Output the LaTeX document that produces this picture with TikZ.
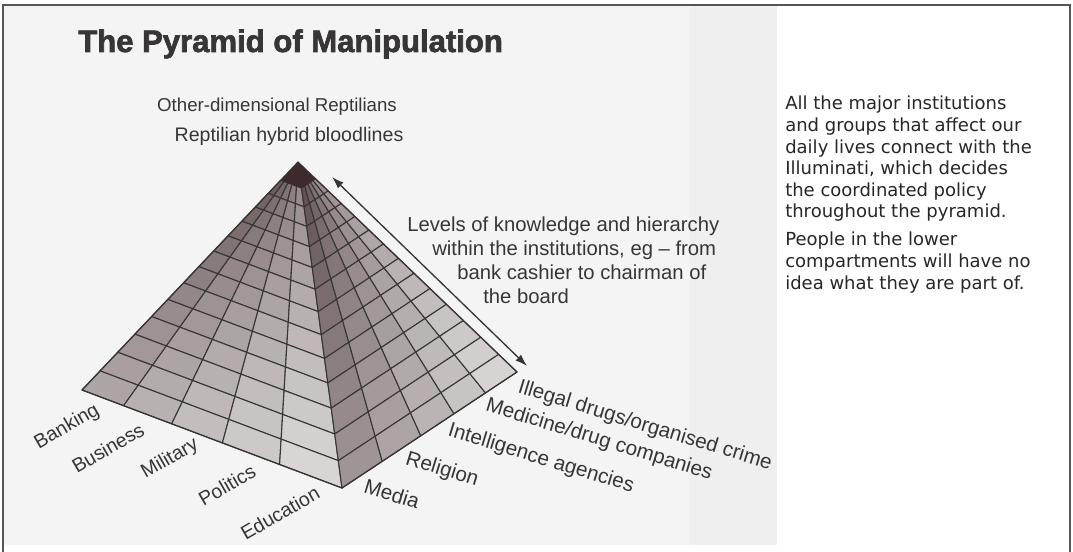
\documentclass[tikz,border=0pt]{standalone}
\usepackage{fontspec}
\setmainfont{Liberation Sans}
\newfontfamily\titlefont{Liberation Sans Bold}[FakeBold=2.2]
\newfontfamily\notefont{DejaVu Sans}
\usetikzlibrary{calc,arrows.meta}
\definecolor{ink}{RGB}{55,53,53}
\definecolor{paper}{RGB}{244,244,244}
\definecolor{fold}{RGB}{239,239,239}
\definecolor{frame}{RGB}{85,85,85}
\definecolor{stone}{RGB}{228,225,225}
\definecolor{shadow}{RGB}{72,52,54}
\definecolor{capstone}{RGB}{60,42,44}

\begin{document}
\begin{tikzpicture}[x=0.75pt,y=-0.75pt,
  lbl/.style={font=\fontsize{14.7}{17}\selectfont,text=ink,inner sep=0pt},
  lblwide/.style={font=\fontsize{15.5}{18}\selectfont,text=ink,inner sep=0pt},
  note/.style={font=\notefont\fontsize{13.5}{16.2}\selectfont,text=black!85,inner sep=0pt,align=left,anchor=north west},
  gridline/.style={draw=ink,line width=0.8pt,line join=round}]
\useasboundingbox (0,0) rectangle (1073,552);
% scanned page and frame
\fill[paper] (3,5) rectangle (777,545);
\fill[fold] (690,5) rectangle (777,545);
\draw[frame,line width=1.1pt] (3,552) -- (3,5) -- (1070,5) -- (1070,552);

\node[anchor=base west,inner sep=0pt,text=ink,font=\titlefont\fontsize{23.3}{26}\selectfont] (title) at (78,52) {The Pyramid of Manipulation};

% pyramid corners
\coordinate (apex) at (298,162);
\coordinate (lc) at (82,390);
\coordinate (fc) at (342,488);
\coordinate (rc) at (517,372);

% left face
\foreach \k in {0,...,12}{
  \pgfmathsetmacro{\ta}{0.08+0.92*(\k/13)*(0.8+0.2*\k/13)}
  \pgfmathsetmacro{\tb}{0.08+0.92*((\k+1)/13)*(0.8+0.2*(\k+1)/13)}
  \foreach \sa/\sb [count=\j from 0] in {0/0.16,0.16/0.345,0.345/0.54,0.54/0.76,0.76/1}{
    \pgfmathtruncatemacro{\lpct}{min(100,20+3.5*(\k+1)+7*\j)}
    \filldraw[gridline,fill=stone!\lpct!shadow]
      ($(apex)!\ta!($(lc)!\sa!(fc)$)$) -- ($(apex)!\tb!($(lc)!\sa!(fc)$)$)
      -- ($(apex)!\tb!($(lc)!\sb!(fc)$)$) -- ($(apex)!\ta!($(lc)!\sb!(fc)$)$) -- cycle;
  }
}
% right face
\foreach \k in {0,...,12}{
  \pgfmathsetmacro{\ta}{0.08+0.92*(\k/13)*(0.8+0.2*\k/13)}
  \pgfmathsetmacro{\tb}{0.08+0.92*((\k+1)/13)*(0.8+0.2*(\k+1)/13)}
  \foreach \sa/\sb [count=\j from 0] in {0/0.23,0.23/0.45,0.45/0.64,0.64/0.82,0.82/1}{
    \pgfmathtruncatemacro{\lpct}{min(100,14+3.3*(\k+1)+9*\j)}
    \filldraw[gridline,fill=stone!\lpct!shadow]
      ($(apex)!\ta!($(fc)!\sa!(rc)$)$) -- ($(apex)!\tb!($(fc)!\sa!(rc)$)$)
      -- ($(apex)!\tb!($(fc)!\sb!(rc)$)$) -- ($(apex)!\ta!($(fc)!\sb!(rc)$)$) -- cycle;
  }
}
\fill[capstone] (apex) -- ($(apex)!0.08!(lc)$) -- ($(apex)!0.08!(fc)$) -- ($(apex)!0.08!(rc)$) -- cycle;
\draw[ink,line width=0.9pt,line join=round] (lc) -- (apex) -- (rc) -- (fc) -- cycle;

% top of the pyramid
\node[lbl,anchor=base,font=\fontsize{14}{17}\selectfont] (othdim) at (277,112) {Other-dimensional Reptilians};
\node[lbl,anchor=base] (hybrid) at (289,142) {Reptilian hybrid bloodlines};

% levels
\coordinate (lvtop) at (332,177);
\coordinate (lvbot) at (527,366);
\draw[ink,line width=1pt,{Latex[length=9pt,width=6pt]}-{Latex[length=9pt,width=6pt]}] (lvtop) -- (lvbot);
\node[lbl,font=\fontsize{15.2}{18}\selectfont,anchor=base west] (lvA) at (407,231) {Levels of knowledge and hierarchy};
\node[lbl,font=\fontsize{15.2}{18}\selectfont,anchor=base west] (lvB) at (432,255) {within the institutions, eg -- from};
\node[lbl,font=\fontsize{15.2}{18}\selectfont,anchor=base west] (lvC) at (457,279) {bank cashier to chairman of};
\node[lbl,font=\fontsize{15.2}{18}\selectfont,anchor=base west] (lvD) at (483,303) {the board};

% left face institutions
\node[lbl,rotate=30] (banking) at (67,427) {Banking};
\node[lbl,rotate=30] (business) at (108,448) {Business};
\node[lbl,rotate=30] (military) at (170,459) {Military};
\node[lbl,rotate=30] (politics) at (227,485) {Politics};
\node[lbl,rotate=30] (education) at (280,513) {Education};

% right face institutions
\node[lblwide,rotate=-17] (media) at (392,494) {Media};
\node[lblwide,rotate=-17] (religion) at (442,470) {Religion};
\node[lblwide,rotate=-17] (intel) at (541,459) {Intelligence agencies};
\node[lblwide,rotate=-17] (medicine) at (599,440) {Medicine/drug companies};
\node[lblwide,rotate=-17] (crime) at (645,426) {Illegal drugs/organised crime};

% side notes
\node[note] (noteA) at (785,96) {All the major institutions\\and groups that affect our\\daily lives connect with the\\Illuminati, which decides\\the coordinated policy\\throughout the pyramid.};
\node[note] (noteB) at (785,232) {People in the lower\\compartments will have no\\idea what they are part of.};
\end{tikzpicture}
\end{document}
